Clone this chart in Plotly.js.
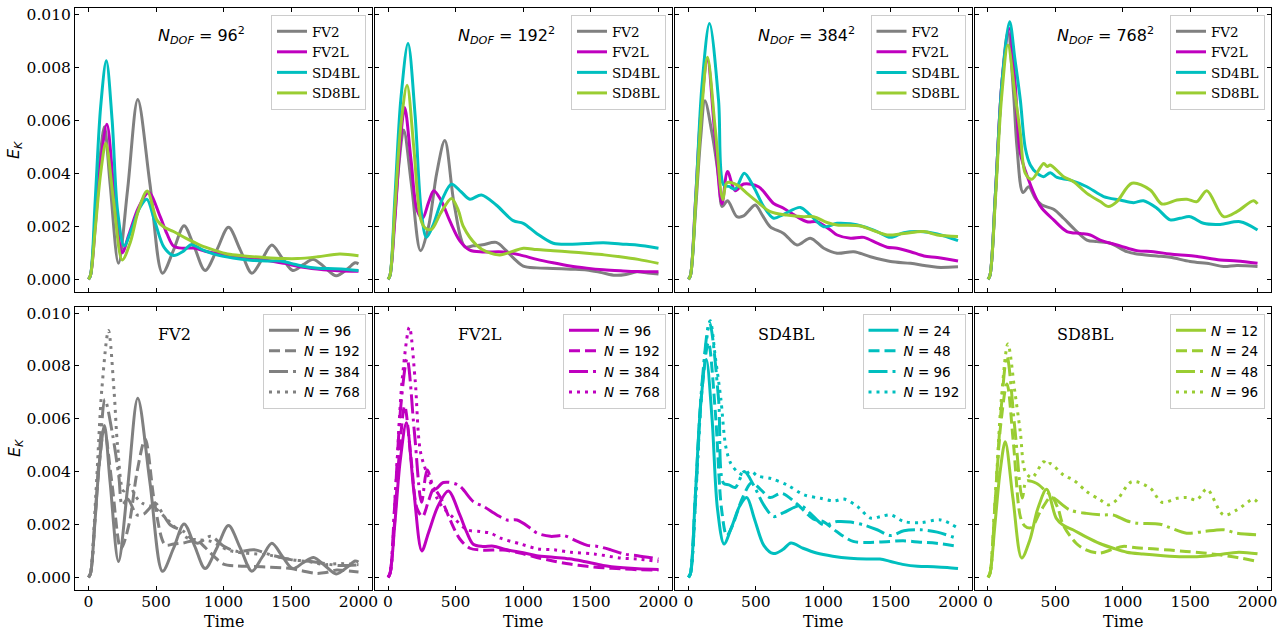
<!DOCTYPE html>
<html><head><meta charset="utf-8">
<script src="https://cdn.plot.ly/plotly-3.0.1.min.js"></script>
<style>html,body{margin:0;padding:0;background:#fff}#chart{width:1288px;height:632px}</style>
</head><body><div id="chart"></div>
<script>
// ---------------- data ----------------
const methods = ['FV2', 'FV2L', 'SD4BL', 'SD8BL'];
const dofs = [96, 192, 384, 768];
const N_FV2 = [96, 192, 384, 768];
const N_FV2L = [96, 192, 384, 768];
const N_SD4BL = [24, 48, 96, 192];
const N_SD8BL = [12, 24, 48, 96];
const xTicks = [0, 500, 1000, 1500, 2000];
const yTicks = [0, 0.002, 0.004, 0.006, 0.008, 0.010];

// N_DOF = 96^2
const t_FV2_96 = [0,15,45,80,118,160,222,290,365,455,548,630,708,785,864,950,1037,1125,1210,1285,1358,1435,1513,1590,1667,1750,1835,1920,1975,2000];
const E_FV2_96 = [0,0.00015,0.0019,0.0043,0.00575,0.0036,0.0006,0.0034,0.00678,0.0036,0.00023,0.0011,0.00202,0.0012,0.00033,0.0011,0.00196,0.0011,0.00023,0.00075,0.00129,0.0008,0.00033,0.00055,0.00075,0.00045,0.00013,0.0004,0.00062,0.00058];
const t_FV2L_96 = [0,15,50,90,136,190,250,300,370,446,531,580,630,700,780,870,1000,1100,1220,1340,1450,1590,1740,1850,2000];
const E_FV2L_96 = [0,0.00015,0.002,0.0044,0.00585,0.0033,0.001,0.0017,0.0027,0.00327,0.00236,0.00173,0.00125,0.00117,0.00118,0.00105,0.00093,0.00082,0.00076,0.0007,0.0006,0.00045,0.00036,0.00032,0.0003];
const t_SD4BL_96 = [0,15,50,90,132,175,215,264,320,380,432,490,560,630,700,760,850,950,1070,1200,1320,1420,1500,1600,1700,1820,1920,2000];
const E_SD4BL_96 = [0,0.00015,0.003,0.0065,0.00824,0.006,0.0026,0.00126,0.0019,0.0027,0.00302,0.0022,0.0012,0.0009,0.00105,0.0013,0.0011,0.00092,0.0008,0.00072,0.00069,0.00069,0.0006,0.00048,0.00042,0.0004,0.00037,0.00033];
const t_SD8BL_96 = [0,15,50,90,128,185,250,310,370,435,506,556,630,720,830,930,1030,1150,1300,1450,1550,1700,1860,2000];
const E_SD8BL_96 = [0,0.00015,0.0019,0.004,0.00513,0.003,0.00073,0.0014,0.0026,0.00333,0.00224,0.00198,0.0018,0.00155,0.00128,0.0011,0.00095,0.00088,0.00082,0.00078,0.00078,0.00085,0.00095,0.00089];

// N_DOF = 192^2
const t_FV2_192 = [0,15,45,80,116,175,240,300,360,420,490,568,630,700,800,870,930,1000,1100,1220,1350,1470,1580,1680,1760,1840,1920,2000];
const E_FV2_192 = [0,0.00015,0.002,0.0043,0.00563,0.0035,0.00108,0.002,0.004,0.00523,0.0028,0.00123,0.00126,0.0013,0.00139,0.0011,0.00079,0.0005,0.00043,0.00041,0.00038,0.00035,0.00025,0.00015,0.00018,0.00028,0.00024,0.0002];
const t_FV2L_192 = [0,15,50,85,123,170,215,255,300,338,390,457,531,605,700,850,975,1100,1220,1346,1470,1593,1720,1840,2000];
const E_FV2L_192 = [0,0.00015,0.0022,0.0048,0.00648,0.0045,0.0026,0.0023,0.0029,0.00334,0.003,0.0022,0.00145,0.0011,0.00103,0.00103,0.00092,0.00075,0.00062,0.0005,0.00042,0.00036,0.00032,0.00029,0.00028];
const t_SD4BL_192 = [0,15,50,95,148,200,245,284,330,400,469,540,605,691,800,926,1000,1099,1222,1346,1470,1593,1720,1839,2000];
const E_SD4BL_192 = [0,0.00015,0.003,0.0068,0.00889,0.0062,0.0026,0.00158,0.002,0.003,0.00358,0.0033,0.00302,0.00318,0.0028,0.00221,0.00211,0.00173,0.00136,0.00132,0.00135,0.00138,0.00133,0.00129,0.00117];
const t_SD8BL_192 = [0,15,50,95,141,190,240,272,321,390,469,520,556,654,728,827,920,1000,1100,1222,1350,1469,1600,1716,1850,2000];
const E_SD8BL_192 = [0,0.00015,0.0026,0.0058,0.00732,0.005,0.0023,0.00195,0.00188,0.0025,0.00305,0.0026,0.002,0.00129,0.00104,0.00092,0.00105,0.00117,0.00112,0.00108,0.00103,0.00098,0.00092,0.00085,0.00075,0.0006];

// N_DOF = 384^2
const t_FV2_384 = [0,15,50,90,122,175,225,250,290,359,409,450,496,550,607,706,805,904,1004,1103,1227,1350,1499,1648,1750,1846,2000];
const E_FV2_384 = [0,0.00015,0.0024,0.0053,0.00673,0.0055,0.0038,0.00274,0.00296,0.00236,0.00239,0.0026,0.0028,0.0024,0.00198,0.00173,0.00129,0.00155,0.00117,0.00098,0.00104,0.00085,0.00067,0.0006,0.00052,0.00045,0.00047];
const t_FV2L_384 = [0,15,50,95,141,195,248,290,347,409,520,632,706,805,880,954,1053,1103,1202,1301,1400,1474,1549,1648,1747,1846,2000];
const E_FV2L_384 = [0,0.00015,0.0028,0.0065,0.00827,0.0055,0.00284,0.00406,0.00334,0.00359,0.00349,0.00286,0.00268,0.00236,0.00217,0.00217,0.00186,0.00167,0.00155,0.00158,0.00136,0.00121,0.00117,0.00104,0.00088,0.00082,0.00069];
const t_SD4BL_384 = [0,15,55,100,156,223,260,300,347,414,483,558,632,706,830,904,1004,1103,1202,1301,1400,1499,1598,1722,1846,2000];
const E_SD4BL_384 = [0,0.00015,0.0032,0.0073,0.00965,0.00676,0.00356,0.0035,0.0034,0.004,0.00349,0.00274,0.0023,0.00245,0.00271,0.00242,0.00198,0.00211,0.00209,0.00198,0.0018,0.00158,0.00176,0.0018,0.00171,0.00146];
const t_SD8BL_384 = [0,15,55,100,141,200,255,285,359,434,508,607,731,855,929,1028,1103,1276,1350,1474,1598,1747,1846,2000];
const E_SD8BL_384 = [0,0.00015,0.003,0.0065,0.00837,0.0056,0.003,0.00364,0.00356,0.00324,0.00293,0.00255,0.00242,0.00236,0.00236,0.00214,0.00205,0.00201,0.00188,0.00167,0.00173,0.0018,0.00167,0.00161];

// N_DOF = 768^2
const t_FV2_768 = [0,15,55,100,148,190,215,260,302,351,400,487,561,635,734,808,907,1031,1105,1253,1352,1500,1649,1748,1847,2000];
const E_FV2_768 = [0,0.00015,0.0032,0.0072,0.00934,0.007,0.005,0.00327,0.00349,0.00305,0.0028,0.00264,0.0023,0.00192,0.00148,0.00142,0.00136,0.00104,0.00095,0.00088,0.00083,0.00067,0.00058,0.00048,0.00052,0.00048];
const t_FV2L_768 = [0,15,55,105,158,200,240,302,363,400,487,586,685,759,833,981,1105,1229,1352,1525,1723,1847,2000];
const E_FV2L_768 = [0,0.00015,0.0032,0.0075,0.00946,0.0075,0.00475,0.00374,0.00299,0.00268,0.00224,0.0018,0.00173,0.00167,0.00148,0.00126,0.00108,0.00104,0.00095,0.00088,0.00073,0.00069,0.0006];
const t_SD4BL_768 = [0,15,55,105,161,200,240,277,314,363,413,462,512,611,734,858,981,1080,1154,1253,1352,1426,1500,1599,1723,1871,2000];
const E_SD4BL_768 = [0,0.00015,0.0032,0.0075,0.00971,0.0083,0.00676,0.00494,0.00431,0.004,0.00387,0.00402,0.00384,0.00374,0.00349,0.00312,0.00299,0.00289,0.00296,0.00268,0.00224,0.0023,0.00236,0.00211,0.00207,0.00217,0.00186];
const t_SD8BL_768 = [0,15,55,100,148,200,240,277,326,413,440,462,561,635,734,833,895,957,1068,1204,1290,1402,1476,1550,1624,1748,1847,1970,2000];
const E_SD8BL_768 = [0,0.00015,0.003,0.0068,0.00883,0.007,0.0055,0.004,0.00377,0.00437,0.00425,0.00431,0.00387,0.00368,0.00324,0.00293,0.00274,0.00293,0.00362,0.00337,0.00284,0.00299,0.00302,0.00293,0.00334,0.00236,0.00255,0.00296,0.00284];

// ---------------- assembly ----------------
const series = {
  FV2:   [[t_FV2_96, E_FV2_96], [t_FV2_192, E_FV2_192], [t_FV2_384, E_FV2_384], [t_FV2_768, E_FV2_768]],
  FV2L:  [[t_FV2L_96, E_FV2L_96], [t_FV2L_192, E_FV2L_192], [t_FV2L_384, E_FV2L_384], [t_FV2L_768, E_FV2L_768]],
  SD4BL: [[t_SD4BL_96, E_SD4BL_96], [t_SD4BL_192, E_SD4BL_192], [t_SD4BL_384, E_SD4BL_384], [t_SD4BL_768, E_SD4BL_768]],
  SD8BL: [[t_SD8BL_96, E_SD8BL_96], [t_SD8BL_192, E_SD8BL_192], [t_SD8BL_384, E_SD8BL_384], [t_SD8BL_768, E_SD8BL_768]]
};
const Nlab = {FV2: N_FV2, FV2L: N_FV2L, SD4BL: N_SD4BL, SD8BL: N_SD8BL};
const colors = {FV2: '#808080', FV2L: '#bf00bf', SD4BL: '#00bfbf', SD8BL: '#9acd32'};
const dashes = ['solid', '11px,5px', '19px,5px,3px,5px', '3px,5px'];

const W = 1288, H = 632;
const colX = [[75, 372], [374.5, 672], [675, 971.5], [974.5, 1271]];
const rowY = [[8, 292], [307, 590]];
const serif = 'DejaVu Serif', sans = 'DejaVu Sans';

const traces = [];
const layout = {
  width: W, height: H, margin: {l: 0, r: 0, t: 0, b: 0},
  paper_bgcolor: '#fff', plot_bgcolor: '#fff', showlegend: true,
  annotations: []
};

function sfx(i) { return i === 0 ? '' : String(i + 1); }

for (let i = 0; i < 8; i++) {
  const row = i < 4 ? 0 : 1, col = i % 4;
  layout['xaxis' + sfx(i)] = {
    domain: [colX[col][0] / W, colX[col][1] / W], range: [-100, 2100], anchor: 'y' + sfx(i),
    tickvals: xTicks, ticks: 'inside', ticklen: 4, tickwidth: 1, tickcolor: '#000', mirror: 'allticks',
    showline: true, linecolor: '#000', linewidth: 1, showgrid: false, zeroline: false,
    showticklabels: row === 1, tickfont: {family: serif, size: 15.5, color: '#000'}, automargin: false,
    ticklabelstandoff: -3
  };
  layout['yaxis' + sfx(i)] = {
    domain: [1 - rowY[row][1] / H, 1 - rowY[row][0] / H], range: [-0.00048, 0.01023], anchor: 'x' + sfx(i),
    tickvals: yTicks, tickformat: '.3f', ticks: 'inside', ticklen: 4, tickwidth: 1, tickcolor: '#000', mirror: 'allticks',
    showline: true, linecolor: '#000', linewidth: 1, showgrid: false, zeroline: false,
    showticklabels: col === 0, tickfont: {family: serif, size: 15.5, color: '#000'}, automargin: false
  };
  const right = colX[col][1] - 6, top = rowY[row][0] + 7;
  layout['legend' + sfx(i)] = {
    x: right / W, y: 1 - top / H, xanchor: 'right', yanchor: 'top',
    bgcolor: 'rgba(255,255,255,0.8)', bordercolor: '#cccccc', borderwidth: 1,
    font: {family: serif, size: 13.5, color: '#000'}, tracegroupgap: 0
  };
}

// top row: one panel per resolution, four methods
for (let c = 0; c < 4; c++) {
  methods.forEach(m => {
    const [t, e] = series[m][c];
    traces.push({
      x: t, y: e, type: 'scatter', mode: 'lines', name: m,
      line: {color: colors[m], width: 3, shape: 'spline', smoothing: 0.9},
      xaxis: 'x' + sfx(c), yaxis: 'y' + sfx(c), legend: 'legend' + sfx(c), hoverinfo: 'skip'
    });
  });
  layout.annotations.push({
    text: '<i>N</i><sub><i>DOF</i></sub> = ' + dofs[c] + '<sup>2</sup>',
    xref: 'x' + sfx(c), yref: 'y' + sfx(c), x: 500, y: 0.0092, xanchor: 'left', yanchor: 'middle',
    showarrow: false, font: {family: sans, size: 16, color: '#000'}
  });
}
// bottom row: one panel per method, four resolutions
methods.forEach((m, c) => {
  const idx = 4 + c;
  for (let r = 0; r < 4; r++) {
    const [t, e] = series[m][r];
    traces.push({
      x: t, y: e, type: 'scatter', mode: 'lines',
      name: '<span style="font-family:DejaVu Sans"><i>N</i> = ' + Nlab[m][r] + '</span>',
      line: {color: colors[m], width: 3, shape: 'spline', smoothing: 0.9, dash: dashes[r]},
      xaxis: 'x' + sfx(idx), yaxis: 'y' + sfx(idx), legend: 'legend' + sfx(idx), hoverinfo: 'skip'
    });
  }
  layout.annotations.push({
    text: m, xref: 'x' + sfx(idx), yref: 'y' + sfx(idx), x: 500, y: 0.0092, xanchor: 'left', yanchor: 'middle',
    showarrow: false, font: {family: serif, size: 16, color: '#000'}
  });
  layout.annotations.push({
    text: 'Time', xref: 'paper', yref: 'paper', x: (colX[c][0] + colX[c][1]) / 2 / W, y: 1 - 621 / H,
    xanchor: 'center', yanchor: 'middle', showarrow: false, font: {family: serif, size: 16, color: '#000'}
  });
});
[150, 448].forEach(yc => {
  layout.annotations.push({
    text: '<i>E</i><sub><i>K</i></sub>', xref: 'paper', yref: 'paper', x: 15 / W, y: 1 - yc / H,
    xanchor: 'center', yanchor: 'middle', textangle: -90, showarrow: false,
    font: {family: sans, size: 16, color: '#000'}
  });
});

Plotly.newPlot('chart', traces, layout, {displayModeBar: false, staticPlot: true});
</script></body></html>
